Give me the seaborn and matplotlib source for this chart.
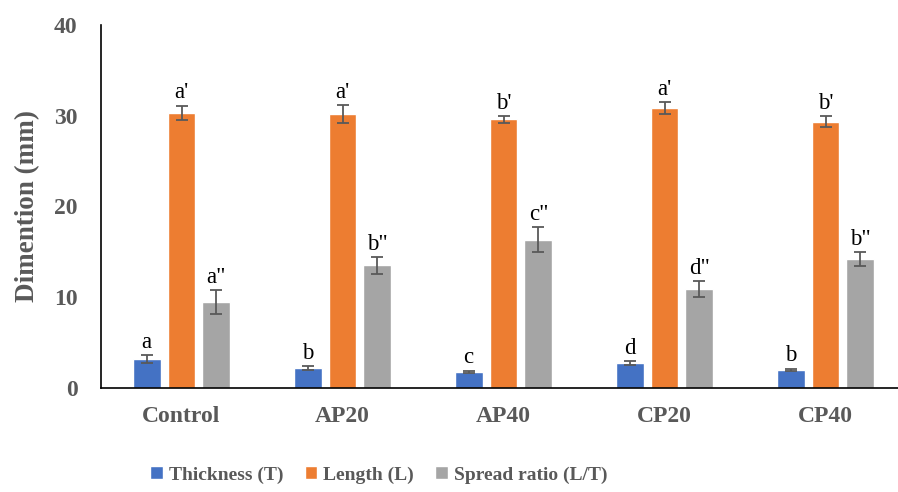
import numpy as np
import pandas as pd
import seaborn as sns
import matplotlib.pyplot as plt

samples = ["Control", "AP20", "AP40", "CP20", "CP40"]
series = ["Thickness (T)", "Length (L)", "Spread ratio (L/T)"]

thickness = [3.2, 2.2, 1.75, 2.75, 2.0]
thickness_err = [0.4, 0.2, 0.15, 0.25, 0.12]
length = [30.3, 30.15, 29.6, 30.85, 29.35]
length_err = [0.8, 1.0, 0.35, 0.65, 0.6]
spread = [9.45, 13.5, 16.35, 10.9, 14.2]
spread_err = [1.35, 0.9, 1.35, 0.85, 0.8]

thickness_sig = ["a", "b", "c", "d", "b"]
length_sig = ["a'", "a'", "b'", "a'", "b'"]
spread_sig = ['a"', 'b"', 'c"', 'd"', 'b"']

colors = ["#4472C4", "#ED7D31", "#A5A5A5"]
text_gray = "#595959"

df = pd.DataFrame({
    "Sample": samples * 3,
    "Series": [s for s in series for _ in samples],
    "Value": thickness + length + spread,
})
errs = [thickness_err, length_err, spread_err]
sigs = [thickness_sig, length_sig, spread_sig]
vals = [thickness, length, spread]

sns.set_theme(style="white")
plt.rcParams["font.family"] = ["Liberation Serif", "DejaVu Serif"]

fig = plt.figure(figsize=(8.98, 4.92), dpi=100)
ax = fig.add_axes([101 / 898, 1 - 388 / 492, 805 / 898, 363 / 492])

sns.barplot(data=df, x="Sample", y="Value", hue="Series", order=samples,
            hue_order=series, palette=colors, width=0.652, gap=0.2,
            saturation=1, errorbar=None, ax=ax, legend=True)

bar_groups = list(ax.containers)
for k, cont in enumerate(bar_groups):
    xs = [p.get_x() + p.get_width() / 2 for p in cont.patches]
    ax.errorbar(xs, vals[k], yerr=errs[k], fmt="none", ecolor=text_gray,
                elinewidth=1.3, capsize=4.5, capthick=1.3)
    for x, v, e, s in zip(xs, vals[k], errs[k], sigs[k]):
        ax.text(x, v + e + 0.25, s, ha="center", va="bottom",
                fontsize=16.5, color="black")

ax.set_xlim(-0.5, 4.5)
ax.set_ylim(0, 40)
ax.set_yticks([0, 10, 20, 30, 40])
ax.set_xlabel("")
ax.set_ylabel("Dimention (mm)", fontsize=19.5, fontweight="bold",
              color=text_gray, labelpad=10)
ax.tick_params(axis="both", length=0, labelsize=17, colors=text_gray)
ax.tick_params(axis="y", pad=17)
ax.tick_params(axis="x", pad=13)
for lab in ax.get_xticklabels() + ax.get_yticklabels():
    lab.set_fontweight("bold")
for side in ["top", "right"]:
    ax.spines[side].set_visible(False)
for side in ["left", "bottom"]:
    ax.spines[side].set_color("black")
    ax.spines[side].set_linewidth(1.2)

handles, labels = ax.get_legend_handles_labels()
ax.legend_.remove()
fig.legend(handles, labels, loc="center", bbox_to_anchor=(0.422, 1 - 475 / 492),
           ncol=3, frameon=False, handlelength=0.65, handleheight=0.65,
           columnspacing=1.1, handletextpad=0.3,
           prop={"size": 14, "weight": "bold"}, labelcolor=text_gray)

fig.savefig("out.png", dpi=100)
